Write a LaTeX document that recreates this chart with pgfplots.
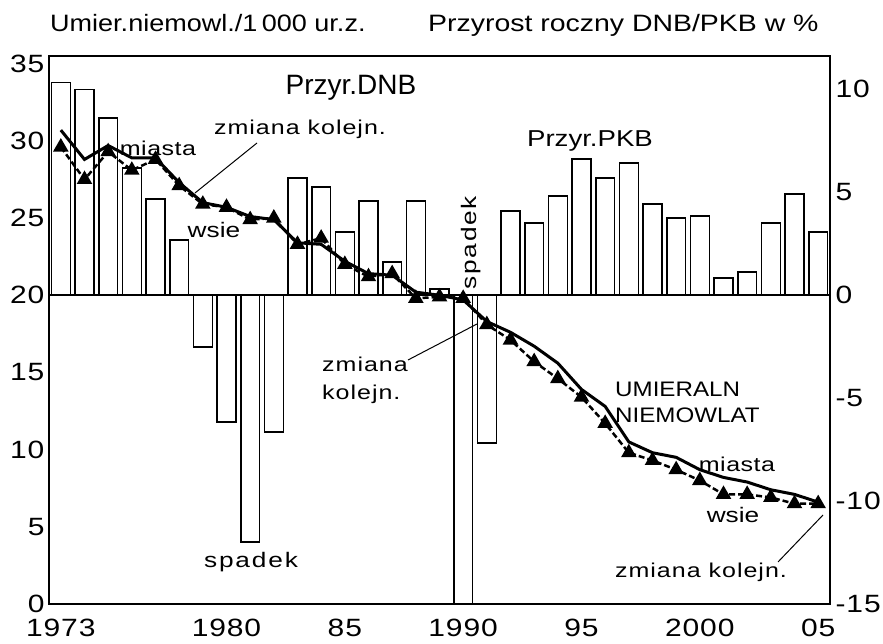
\documentclass[border=0pt]{standalone}
\usepackage{fontspec}
\setmainfont{Liberation Sans}
\usepackage{pgfplots}
\pgfplotsset{compat=1.18}
% #1 font size, #2 horizontal scale, #3 letter spacing, #4 text
\newcommand{\tx}[4]{\scalebox{#2}[1]{\fontsize{#1}{#1}\selectfont\addfontfeatures{LetterSpace=#3}#4}}
\newcommand{\tk}[1]{\tx{25}{1.2}{3}{#1}}
\begin{document}
\begin{tikzpicture}[x=1pt,y=1pt]
\useasboundingbox (0,0) rectangle (883,644);
% bars: annual growth of DNB/PKB (right axis)
\begin{axis}[at={(49pt,40pt)}, anchor=south west, width=781pt, height=548pt, scale only axis,
  xmin=1972.5, xmax=2005.5, ymin=-15, ymax=11.62,
  axis line style={line width=1.6pt},
  xtick=\empty, ytick={-15,-10,-5,0,5,10}, yticklabel pos=right,
  yticklabels={\tk{-15},\tk{-10},\tk{-5},\tk{0},\tk{5},\tk{10}},
  major tick length=0pt,
  yticklabel style={xshift=2pt}]
\addplot[ybar, bar width=0.8, fill=white, draw=black, line width=1.6pt] coordinates {
(1973,10.34) (1974,10.0) (1975,8.6) (1976,6.18) (1977,4.68) (1978,2.69)
(1979,-2.51) (1980,-6.15) (1981,-12.0) (1982,-6.64) (1983,5.70) (1984,5.26)
(1985,3.07) (1986,4.58) (1987,1.62) (1988,4.58) (1989,0.3) (1990,-15)
(1991,-7.17) (1992,4.09) (1993,3.51) (1994,4.82) (1995,6.62) (1996,5.70)
(1997,6.43) (1998,4.43) (1999,3.75) (2000,3.85) (2001,0.84) (2002,1.13)
(2003,3.51) (2004,4.92) (2005,3.07)};
\addplot[black, line width=1.6pt] coordinates {(1972.5,0) (2005.5,0)};
\end{axis}
% lines: infant mortality (left axis)
\begin{axis}[at={(49pt,40pt)}, anchor=south west, width=781pt, height=548pt, scale only axis,
  xmin=1972.5, xmax=2005.5, ymin=0, ymax=35.5,
  axis line style={line width=1.6pt},
  ytick={0,5,...,35},
  yticklabels={\tk{0},\tk{5},\tk{10},\tk{15},\tk{20},\tk{25},\tk{30},\tk{35}},
  xtick={1973,1980,1985,1990,1995,2000,2005},
  xticklabels={\tk{1973},\tk{1980},\tk{85},\tk{1990},\tk{95},\tk{2000},\tk{05}},
  major tick length=0pt,
  yticklabel style={xshift=-1pt},
  xticklabel style={yshift=-12pt}]
\addplot[black, line width=3pt] coordinates {
(1973,30.7) (1974,28.8) (1975,29.7) (1976,28.9) (1977,28.9) (1978,27.3)
(1979,26.0) (1980,25.7) (1981,25.1) (1982,24.9) (1983,23.4) (1984,23.3)
(1985,22.2) (1986,21.4) (1987,21.3) (1988,20.2) (1989,20.0) (1990,19.7)
(1991,18.3) (1992,17.6) (1993,16.7) (1994,15.6) (1995,13.9) (1996,12.8)
(1997,10.5) (1998,9.8) (1999,9.5) (2000,8.7) (2001,8.2) (2002,7.9)
(2003,7.4) (2004,7.1) (2005,6.6)};
\addplot[black, line width=2.5pt, dash pattern=on 6pt off 3pt, mark=triangle*, mark size=6.5pt, mark options={solid, fill=black}] coordinates {
(1973,29.6) (1974,27.5) (1975,29.3) (1976,28.1) (1977,28.8) (1978,27.1)
(1979,25.9) (1980,25.7) (1981,24.9) (1982,25.0) (1983,23.3) (1984,23.7)
(1985,22.0) (1986,21.2) (1987,21.4) (1988,19.8) (1989,19.9) (1990,19.8)
(1991,18.1) (1992,17.1) (1993,15.7) (1994,14.6) (1995,13.4) (1996,11.7)
(1997,9.8) (1998,9.3) (1999,8.7) (2000,8.0) (2001,7.1) (2002,7.1)
(2003,6.9) (2004,6.5) (2005,6.5)};
\end{axis}
% titles and annotations
\node[anchor=base west, inner sep=0pt] at (50,612) {\tx{23.7}{1.14}{0}{Umier.niemowl./1\,000 ur.z.}};
\node[anchor=base west, inner sep=0pt] at (428,612) {\tx{23.7}{1.2}{0}{Przyrost roczny DNB/PKB w \%}};
\node[anchor=base, inner sep=0pt] at (351,549) {\tx{28}{1}{0}{Przyr.DNB}};
\node[anchor=base, inner sep=0pt] at (590,497) {\tx{23}{1.2}{0}{Przyr.PKB}};
\node[anchor=base, inner sep=0pt] at (300,509) {\tx{20}{1.25}{4}{zmiana kolejn.}};
\node[anchor=base, inner sep=0pt] at (158,488) {\tx{20}{1.25}{2}{miasta}};
\node[anchor=base, inner sep=0pt] at (214,406) {\tx{21}{1.25}{0}{wsie}};
\node[anchor=base west, inner sep=0pt, rotate=90] at (476,354) {\tx{21}{1.25}{7}{spadek}};
\node[anchor=base, inner sep=0pt] at (251,76) {\tx{21}{1.25}{7}{spadek}};
\node[anchor=base west, inner sep=0pt] at (322,272) {\tx{20}{1.25}{4}{zmiana}};
\node[anchor=base west, inner sep=0pt] at (322,244) {\tx{20}{1.25}{4}{kolejn.}};
\node[anchor=base west, inner sep=0pt] at (615,247) {\tx{21}{1.15}{0}{UMIERALN}};
\node[anchor=base west, inner sep=0pt] at (615,221) {\tx{21}{1.15}{0}{NIEMOWLAT}};
\node[anchor=base, inner sep=0pt] at (737,172) {\tx{20}{1.25}{2}{miasta}};
\node[anchor=base, inner sep=0pt] at (733,121) {\tx{21}{1.25}{0}{wsie}};
\node[anchor=base, inner sep=0pt] at (701,66) {\tx{20}{1.25}{4}{zmiana kolejn.}};
\draw[line width=1pt] (257,501) -- (195,451);
\draw[line width=1pt] (408,284) -- (477,320);
\draw[line width=1pt] (778,82) -- (823,129);
\end{tikzpicture}
\end{document}
